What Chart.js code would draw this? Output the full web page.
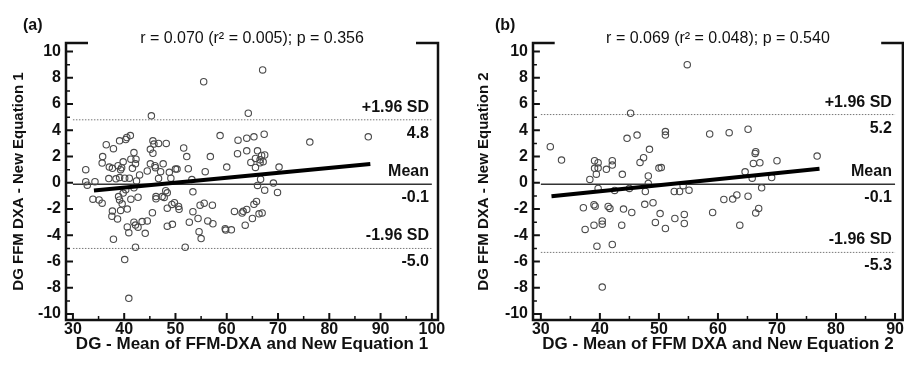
<!DOCTYPE html>
<html lang="en">
<head>
<meta charset="UTF-8"/>
<title>Bland-Altman: DG FFM DXA vs New Equations</title>
<script src="https://cdn.jsdelivr.net/npm/chart.js"></script>
<style>
  * { margin: 0; padding: 0; box-sizing: border-box; }
  html, body { width: 904px; height: 367px; overflow: hidden; background: #fff; }
  #wrap { position: relative; width: 904px; height: 367px; overflow: hidden; }
  canvas { position: absolute; top: 0; }
  #chartA { left: 0; }
  #chartB { left: 450px; }
</style>
</head>
<body>
<div id="wrap">
  <canvas id="chartA" width="450" height="367"></canvas>
  <canvas id="chartB" width="458" height="367"></canvas>
</div>

<script>
  // ---- data ----
  // (a) New Equation 1
  const aX = [45.3,55.5,67.0,64.2,41.2,40.5,40.3,39.1,36.5,37.9,45.6,45.8,46.7,48.2,45.1,45.6,58.7,62.2,63.9,65.3,
              67.3,51.6,76.2,87.6,35.8,41.9,41.3,42.3,42.2,41.6,39.8,35.7,32.5,37.1,37.7,38.8,39.3,39.5,37.0,38.4,
              39.1,40.1,41.0,43.0,42.4,44.5,45.1,46.0,46.1,47.1,47.6,46.7,48.8,49.1,50.0,50.3,32.5,34.3,32.8,52.2,
              52.5,53.2,55.8,56.8,60.0,62.1,63.9,66.0,65.6,66.8,67.4,66.5,67.1,64.7,65.6,66.5,70.2,66.6,66.0,67.4,
              69.1,69.9,33.9,35.1,35.7,37.7,37.6,38.7,39.3,40.6,38.9,39.1,39.6,39.8,40.3,41.3,42.7,41.9,45.5,46.2,
              46.2,47.4,47.8,48.4,48.1,48.4,49.3,49.8,50.6,50.7,40.6,40.9,41.9,42.2,42.7,43.5,44.5,44.1,48.4,49.4,
              37.9,42.2,40.1,51.9,40.9,53.4,53.4,54.4,52.7,54.6,55.0,54.8,55.6,57.2,56.3,57.3,59.7,59.8,60.9,61.5,
              63.2,63.9,63.0,65.3,65.8,66.3,66.9,65.0,63.6];
  const aY = [5.1,7.7,8.6,5.3,3.6,3.45,3.3,3.2,2.9,2.6,3.2,2.95,3.0,3.0,2.55,2.25,3.6,3.25,3.4,3.5,
              3.7,2.65,3.1,3.5,2.0,2.3,1.8,1.8,1.45,1.1,1.6,1.5,1.0,1.2,1.1,1.3,1.0,1.15,0.32,0.3,
              0.4,0.35,0.35,0.6,0.14,0.9,1.45,1.3,1.15,0.85,1.45,0.33,0.8,0.35,1.05,1.05,0.08,0.08,-0.18,2.0,
              1.07,0.25,0.85,2.0,1.2,2.22,2.44,2.44,1.86,2.08,2.12,1.53,1.6,1.55,1.17,1.75,1.2,0.27,-0.2,-0.56,
              -0.02,-0.73,-1.25,-1.3,-1.55,-2.15,-2.55,-2.75,-2.1,-2.0,-1.05,-1.3,-1.6,-0.78,-0.52,-1.25,-1.1,-0.38,-2.28,-1.05,
              -1.22,-1.05,-1.11,-0.76,-0.6,-1.93,-1.65,-1.52,-1.8,-2.02,-3.36,-3.8,-3.0,-3.22,-3.38,-2.95,-2.9,-3.85,-3.3,-3.16,
              -4.3,-4.9,-5.85,-4.9,-8.8,-0.69,-2.2,-2.72,-3.0,-3.72,-4.25,-1.7,-1.55,-1.7,-2.9,-3.12,-3.5,-3.6,-3.58,-2.18,
              -2.17,-2.03,-2.3,-1.64,-1.42,-2.36,-2.3,-2.72,-3.23];
  const aFitX = [34.1, 88.0];
  const aFitY = [-0.58, 1.43];
  const aRefs = [4.8, -0.1, -5.0];
  const aRefLabels = ['4.8', '-0.1', '-5.0'];
  const aSpan = [30, 100];
  const aXTicks = [30, 40, 50, 60, 70, 80, 90, 100];

  // (b) New Equation 2
  const bX = [54.8,45.2,31.6,33.5,44.6,46.3,51.1,51.1,58.6,61.9,65.1,76.8,48.4,47.4,46.8,
              39.1,39.7,39.1,39.7,39.4,38.3,41.1,42.1,42.1,43.8,50.0,50.4,48.2,48.2,
              39.7,42.5,45.0,47.7,52.6,53.5,54.1,55.1,
              64.6,65.8,66.3,66.4,66.0,67.1,70.0,69.1,67.4,
              61.0,62.5,63.2,65.1,66.9,66.4,59.1,63.7,
              37.2,39.0,39.2,41.4,41.7,44.0,45.4,47.6,49.0,
              50.2,49.4,51.1,52.7,54.3,54.3,
              37.5,39.0,40.4,40.4,43.7,39.5,42.1,40.4];
  const bY = [9.0,5.3,2.75,1.73,3.39,3.64,3.9,3.64,3.72,3.82,4.08,2.04,2.55,1.91,1.55,
              1.68,1.53,1.1,1.12,0.66,0.26,1.03,1.68,1.35,0.65,1.12,1.16,0.52,-0.05,
              -0.43,-0.58,-0.43,-0.66,-0.66,-0.66,-0.22,-0.56,
              0.84,0.35,2.24,2.37,1.48,1.53,1.68,0.4,-0.38,
              -1.27,-1.24,-0.92,-1.02,-1.95,-2.29,-2.26,-3.23,
              -1.9,-1.67,-1.78,-1.8,-1.95,-2.0,-2.26,-1.64,-1.52,
              -2.34,-3.02,-3.48,-2.72,-2.41,-3.1,
              -3.55,-3.23,-2.9,-3.15,-3.23,-4.83,-4.7,-7.94];
  const bFitX = [31.8, 77.2];
  const bFitY = [-1.02, 1.07];
  const bRefs = [5.2, -0.1, -5.3];
  const bRefLabels = ['5.2', '-0.1', '-5.3'];
  const bSpan = [30, 90];
  const bXTicks = [30, 40, 50, 60, 70, 80, 90];

  const yTicks = [-10, -8, -6, -4, -2, 0, 2, 4, 6, 8, 10];
  const refNames = ['+1.96 SD', 'Mean', '-1.96 SD'];

  const Y_MIN = -10.45, Y_MAX = 10.65;
  const CANVAS_H = 367, PAD_TOP = 43, X_AXIS_H = 47;

  const FONT = "'Liberation Sans', Arial, Helvetica, sans-serif";
  Chart.defaults.font.family = FONT;
  Chart.defaults.color = '#111';

  const INK = '#111';

  // panel letter, stats line and SD labels
  const labelPlugin = {
    id: 'baLabels',
    afterDraw(chart, args, o) {
      const { ctx, chartArea: a, scales: { y } } = chart;
      ctx.save();
      ctx.fillStyle = INK;
      ctx.textBaseline = 'alphabetic';
      ctx.font = 'bold 16px ' + FONT;
      ctx.textAlign = 'left';
      ctx.fillText(o.letter, o.letterX, 30);

      ctx.font = '16px ' + FONT;
      ctx.textAlign = 'center';
      ctx.fillText(o.stats, (a.left + a.right) / 2, 43);

      ctx.font = 'bold 16px ' + FONT;
      ctx.textAlign = 'right';
      o.refs.forEach((v, i) => {
        const py = y.getPixelForValue(v);
        ctx.fillText(refNames[i], a.right - o.labelInset, py - 8);
        ctx.fillText(o.refLabels[i], a.right - o.labelInset, py + 18);
      });
      ctx.restore();
    }
  };

  function pairs(xs, ys) {
    return xs.map((x, i) => ({ x: x, y: ys[i] }));
  }

  function hline(span, v) {
    return [{ x: span[0], y: v }, { x: span[1], y: v }];
  }

  function mids(arr) {
    return arr.slice(0, -1).map((v, i) => (v + arr[i + 1]) / 2);
  }

  // open-top box: short stubs at both top corners, then left, bottom, right
  function frameData(xMin, xMax, stub) {
    return [
      { x: xMin + stub, y: Y_MAX }, { x: xMin, y: Y_MAX }, { x: xMin, y: Y_MIN },
      { x: xMax, y: Y_MIN }, { x: xMax, y: Y_MAX }, { x: xMax - stub, y: Y_MAX }
    ];
  }

  // inward tick segments, separated by null points so the line breaks
  function tickData(xs, ys, xMin, xLen, yLen) {
    const out = [];
    xs.forEach(v => { out.push({ x: v, y: Y_MIN }, { x: v, y: Y_MIN + yLen }, { x: v, y: null }); });
    ys.forEach(v => { out.push({ x: xMin, y: v }, { x: xMin + xLen, y: v }, { x: xMin, y: null }); });
    return out;
  }

  function makeChart(id, c) {
    const canvas = document.getElementById(id);
    const ctx = canvas.getContext('2d');
    // data units per pixel, from the fixed plot box
    const areaW = canvas.width - c.yWidth - c.padRight;
    const areaH = CANVAS_H - PAD_TOP - X_AXIS_H;
    const ux = (c.xMax - c.xMin) / areaW;
    const uy = (Y_MAX - Y_MIN) / areaH;

    const lineDs = (data, color, width, extra) => Object.assign({
      data: data, showLine: true, borderColor: color, borderWidth: width,
      pointRadius: 0, spanGaps: false
    }, extra || {});

    return new Chart(ctx, {
      type: 'scatter',
      data: {
        datasets: [
          lineDs(pairs(c.fitX, c.fitY), '#000', 4),
          { data: pairs(c.xs, c.ys), pointRadius: 3.2, pointBorderWidth: 1.1,
            pointBorderColor: '#4a4a4a', pointBackgroundColor: 'rgba(255,255,255,0)' },
          lineDs(hline(c.span, c.refs[1]), '#333', 1.5),
          lineDs(hline(c.span, c.refs[0]), '#777', 1, { borderDash: [1.5, 1.5] }),
          lineDs(hline(c.span, c.refs[2]), '#777', 1, { borderDash: [1.5, 1.5] }),
          lineDs(frameData(c.xMin, c.xMax, 22 * ux), INK, 2.5,
                 { clip: false, borderJoinStyle: 'miter', borderCapStyle: 'butt' }),
          lineDs(tickData(c.xTicks, yTicks, c.xMin, 7 * ux, 7 * uy), INK, 2,
                 { clip: false, borderCapStyle: 'butt' }),
          lineDs(tickData(mids(c.xTicks), mids(yTicks), c.xMin, 4 * ux, 4 * uy), INK, 1.5,
                 { clip: false, borderCapStyle: 'butt' })
        ]
      },
      options: {
        responsive: false,
        animation: false,
        devicePixelRatio: 1,
        events: [],
        layout: { padding: { top: PAD_TOP, right: c.padRight, left: 0, bottom: 0 } },
        scales: {
          x: {
            type: 'linear',
            min: c.xMin, max: c.xMax,
            afterBuildTicks: s => { s.ticks = c.xTicks.map(v => ({ value: v })); },
            afterFit: s => { s.height = X_AXIS_H; },
            grid: { display: false, drawTicks: false },
            border: { display: false },
            ticks: { padding: 0, color: INK, font: { size: 16, weight: 'bold' },
                     autoSkip: false, maxRotation: 0, minRotation: 0 },
            title: { display: true, text: c.xTitle, color: INK,
                     font: { size: 17, weight: 'bold', lineHeight: 1.2 },
                     padding: { top: 0, bottom: 12 } }
          },
          y: {
            type: 'linear',
            min: Y_MIN, max: Y_MAX,
            afterBuildTicks: s => { s.ticks = yTicks.map(v => ({ value: v })); },
            afterFit: s => { s.width = c.yWidth; },
            grid: { display: false, drawTicks: false },
            border: { display: false },
            ticks: { padding: 5, color: INK, font: { size: 16, weight: 'bold' }, autoSkip: false },
            title: { display: true, text: c.yTitle, color: INK,
                     font: { size: 15, weight: 'bold', lineHeight: 1.2 },
                     padding: { top: c.yTitlePad, bottom: 0 } }
          }
        },
        plugins: {
          legend: { display: false },
          tooltip: { enabled: false },
          baLabels: {
            letter: c.letter, letterX: c.letterX, stats: c.stats,
            refs: c.refs, refLabels: c.refLabels, labelInset: c.labelInset
          }
        }
      },
      plugins: [labelPlugin]
    });
  }

  makeChart('chartA', {
    xs: aX, ys: aY, fitX: aFitX, fitY: aFitY, refs: aRefs, refLabels: aRefLabels, span: aSpan,
    xTicks: aXTicks, xMin: 28.65, xMax: 101.2, padRight: 12, yWidth: 66,
    xTitle: 'DG - Mean of FFM-DXA and New Equation 1',
    yTitle: 'DG FFM DXA - New Equation 1', yTitlePad: 9.5,
    letter: '(a)', letterX: 23, stats: 'r = 0.070 (r\u00B2 = 0.005); p = 0.356', labelInset: 9
  });

  makeChart('chartB', {
    xs: bX, ys: bY, fitX: bFitX, fitY: bFitY, refs: bRefs, refLabels: bRefLabels, span: bSpan,
    xTicks: bXTicks, xMin: 28.67, xMax: 91.33, padRight: 0, yWidth: 83,
    xTitle: 'DG - Mean of FFM DXA and New Equation 2',
    yTitle: 'DG FFM DXA - New Equation 2', yTitlePad: 25,
    letter: '(b)', letterX: 45, stats: 'r = 0.069 (r\u00B2 = 0.048); p = 0.540', labelInset: 11
  });
</script>
</body>
</html>
